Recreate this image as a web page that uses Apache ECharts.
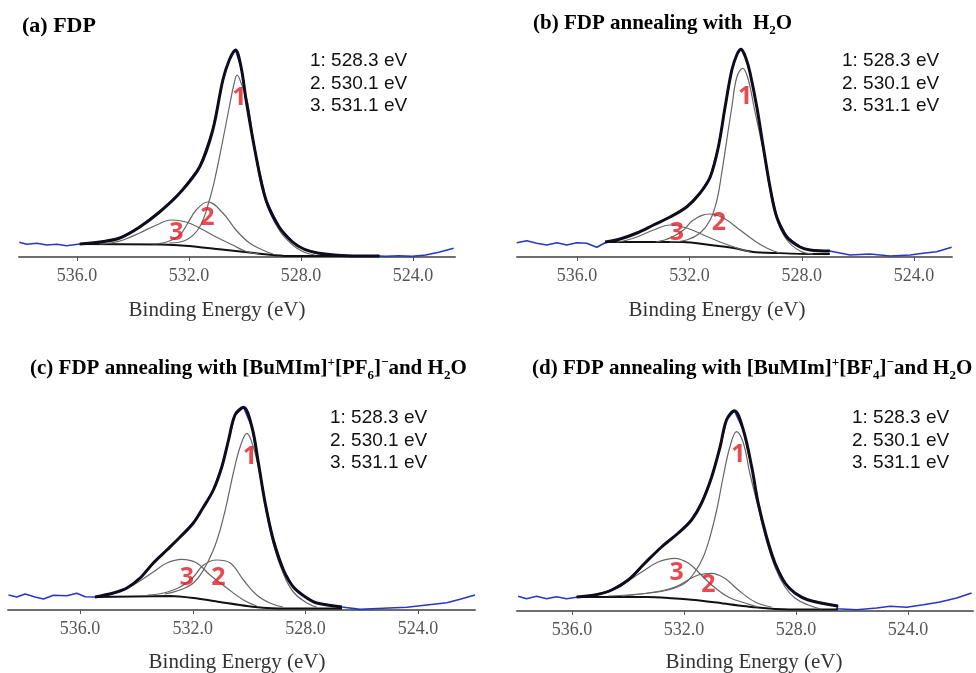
<!DOCTYPE html>
<html lang="en">
<head>
<meta charset="UTF-8">
<title>O 1s XPS spectra of FDP</title>
<script src="https://cdn.jsdelivr.net/npm/echarts@6/dist/echarts.min.js"></script>
<style>
  html, body { margin: 0; background: #fff; }
  #chart { width: 976px; height: 673px; }
</style>
</head>
<body>
<div id="chart"></div>
<script>
// binding energy (eV), intensity (arb. units)

// (a) FDP
var aRawL = [[538.06,14.7],[537.79,12.7],[537.43,13.7],[537.08,12],[536.72,12.7],[536.37,11.3],[536.04,12.5],[535.9,13]];
var aEnv = [[535.9,13],[535.18,15],[534.47,19],[533.76,30],[533.05,45],[532.33,64],[531.62,90],[531.15,127],[530.79,177],[530.56,197],[530.34,207],[530.14,190],[529.96,157],[529.6,100],[529.25,57],[528.78,30],[528.3,15],[527.9,8],[527.4,4],[526.8,2],[526,1],[525.2,1]];
var aRawR = [[525.2,1],[524.98,0.6],[524.5,1.3],[524.03,0.6],[523.55,2],[523.08,4.7],[522.55,8.7]];
var aC1 = [[532.7,14],[532.1,17],[531.62,30],[531.27,57],[531.03,84],[530.79,117],[530.56,150],[530.4,172],[530.28,182],[530.14,174],[529.9,154],[529.6,97],[529.25,55],[528.78,27],[528.3,12],[527.9,5],[527.5,2]];
var aC2 = [[533.3,13],[532.8,15],[532.33,22],[532.04,34],[531.74,47],[531.33,55],[530.79,44],[530.32,27],[529.84,14],[529.37,7],[529.0,3]];
var aC3 = [[535.2,13],[534.8,14],[534.35,17],[533.76,24],[533.16,32],[532.63,37],[532.1,35],[531.62,29],[531.03,20],[530.44,12],[530,6],[529.5,3]];
var aBg = [[535.9,13],[533,12.5],[532,11],[531,8],[530,5],[529.2,2.5],[528.5,1],[525.2,1]];
var aMarks = [[530.2,159,'1'],[531.34,39,'2'],[532.45,24,'3']];

// (b) FDP annealing with H2O
var bRawL = [[538.15,14.3],[537.79,16.3],[537.44,13.7],[537.08,12],[536.72,14.3],[536.37,12],[536.01,14.3],[535.66,13.7],[535.3,9.7],[535,14.3]];
var bEnv = [[535,15],[534.47,18],[533.87,24],[533.28,32],[532.69,40],[532.1,50],[531.62,64],[531.26,80],[530.97,110],[530.73,150],[530.49,187],[530.3,203],[530.16,207.7],[529.98,198],[529.84,184],[529.6,150],[529.37,110],[529.13,70],[528.89,40],[528.53,20],[528.06,10],[527.7,7],[527,6]];
var bRawR = [[527,4],[526.28,2],[525.57,3],[524.85,1],[524.14,2],[523.68,3.7],[523.2,5.3],[522.66,9.7]];
var bC1 = [[532.7,15],[532.1,17],[531.62,24],[531.26,37],[531.02,57],[530.85,84],[530.67,117],[530.49,150],[530.31,180],[530.1,188.7],[529.9,177],[529.7,150],[529.37,106],[529.13,67],[528.89,38],[528.53,17],[528.06,6],[527.6,3]];
var bC2 = [[533.2,15],[532.69,19],[532.21,27],[531.86,37],[531.3,43],[530.79,39],[530.2,27],[529.72,17],[529.25,9],[528.8,4]];
var bC3 = [[534.6,15],[534.35,16],[533.87,20],[533.28,27],[532.69,32],[532.1,29],[531.5,22],[530.91,15],[530.31,9],[529.84,5]];
var bBg = [[535,15],[532.21,15],[531.26,12],[530.43,9],[529.72,5],[528.89,4],[527.7,3],[527,3]];
var bMarks = [[530.02,160,'1'],[530.95,34,'2'],[532.45,24,'3']];

// (c) FDP annealing with [BuMIm]+[PF6]- and H2O
var cRawL = [[538.54,15],[538.25,13],[537.95,16],[537.6,13],[537.3,11],[536.95,14.7],[536.47,14.3],[536.12,16.7],[535.82,13.3],[535.47,13]];
var cEnv = [[535.47,13],[534.82,17],[534.34,22],[533.87,32],[533.4,47],[532.92,60],[532.45,73],[531.98,87],[531.62,103],[531.27,120],[530.97,143],[530.73,170],[530.5,195],[530.2,202.7],[529.9,183],[529.67,147],[529.43,107],[529.14,70],[528.78,40],[528.43,23],[527.95,12],[527.6,7],[526.7,3]];
var cRawR = [[526.7,2],[526.06,0.6],[525.23,1.7],[524.4,2.7],[523.69,5],[522.98,7.3],[522.51,10.7],[521.98,15]];
var cC1 = [[533,16],[532.45,20],[531.98,27],[531.62,40],[531.27,60],[531.03,80],[530.79,107],[530.56,137],[530.32,163],[530.08,176.7],[529.85,163],[529.65,140],[529.43,104],[529.14,66],[528.78,36],[528.43,18],[527.95,7],[527.6,3]];
var cC2 = [[533.6,15],[533.04,17],[532.45,23],[531.98,33],[531.62,45],[531.15,50],[530.67,47],[530.2,30],[529.73,15],[529.26,7],[528.8,3]];
var cC3 = [[535.17,15],[534.58,18],[533.99,27],[533.4,38],[532.92,47],[532.39,50.7],[531.86,47],[531.39,35],[530.79,22],[530.2,10],[529.73,4]];
var cBg = [[535.47,13],[532.8,14],[531.98,12],[531.03,8],[530.08,4],[529.37,2],[528.5,1.5],[526.7,1.5]];
var cMarks = [[529.97,153,'1'],[531.09,32,'2'],[532.21,32,'3']];

// (d) FDP annealing with [BuMIm]+[BF4]- and H2O
var dRawL = [[537.92,14.7],[537.62,12.3],[537.26,14.7],[536.9,12.3],[536.55,14.3],[536.19,12.3],[535.83,13.7]];
var dEnv = [[535.83,14],[535.18,16],[534.58,21],[533.99,31],[533.39,48],[532.8,64],[532.2,78],[531.73,91],[531.37,108],[531.01,134],[530.71,164],[530.48,191],[530.2,200.3],[529.88,181],[529.58,144],[529.35,108],[529.05,74],[528.75,48],[528.39,28],[528.04,18],[527.56,11],[526.5,5]];
var dRawR = [[526.55,2.3],[525.83,1.3],[525.12,3],[524.64,4.7],[524.05,3.7],[523.45,6.3],[522.86,9],[522.26,13],[521.73,18]];
var dC1 = [[534.2,15],[533.25,18],[532.56,21],[531.96,28],[531.61,39],[531.31,54],[531.07,74],[530.83,101],[530.6,134],[530.36,164],[530.12,179.3],[529.88,168],[529.65,138],[529.35,104],[529.05,70],[528.75,44],[528.39,24],[528.04,13],[527.56,6],[527.1,2]];
var dC2 = [[534.7,15],[533.99,16],[533.04,19],[532.32,24],[531.85,31],[531.49,36],[531.01,37.7],[530.54,32.7],[530.06,21],[529.46,9],[528.87,4]];
var dC3 = [[535.3,16],[534.7,19],[534.11,28],[533.51,39],[532.92,49],[532.32,52.7],[531.85,48],[531.49,39],[531.01,26],[530.42,14],[529.82,8],[529.35,4]];
var dBg = [[535.83,14],[533.27,14],[532.44,12.7],[531.61,11],[530.65,7.7],[529.46,3.7],[528.27,1.5],[526.5,1.5]];
var dMarks = [[530.06,156,'1'],[531.13,26,'2'],[532.26,38,'3']];

var tickValues = [536, 532, 528, 524];
var peakNotes = ['1: 528.3 eV', '2. 530.1 eV', '3. 531.1 eV'];
var axisName = 'Binding Energy (eV)';

var titles = [
  '{b|(a) FDP}',
  '{b|(b) FDP annealing with  H}{sub|2}{b|O}',
  '{b|(c) FDP annealing with [BuMIm]}{sup|+}{b|[PF}{sub|6}{b|]}{sup|\u2212}{b|and H}{sub|2}{b|O}',
  '{b|(d) FDP annealing with [BuMIm]}{sup|+}{b|[BF}{sub|4}{b|]}{sup|\u2212}{b|and H}{sub|2}{b|O}'
];

var data = [
  {raw: aRawL.concat(aEnv, aRawR), env: aEnv, c1: aC1, c2: aC2, c3: aC3, bg: aBg, marks: aMarks},
  {raw: bRawL.concat(bEnv, bRawR), env: bEnv, c1: bC1, c2: bC2, c3: bC3, bg: bBg, marks: bMarks},
  {raw: cRawL.concat(cEnv, cRawR), env: cEnv, c1: cC1, c2: cC2, c3: cC3, bg: cBg, marks: cMarks},
  {raw: dRawL.concat(dEnv, dRawR), env: dEnv, c1: dC1, c2: dC2, c3: dC3, bg: dBg, marks: dMarks}
];

// pixel layout of the four panels
var layout = [
  {left: 19,  width: 436, axisY: 257, xmin: 522.5,  xmax: 538.07, title: [22, 26],  tsize: 22, note: [310, 61],  name: [217, 310]},
  {left: 517, width: 435, axisY: 257, xmin: 522.65, xmax: 538.14, title: [533, 24], tsize: 21, note: [842, 61],  name: [717, 310]},
  {left: 8,   width: 467, axisY: 610, xmin: 521.98, xmax: 538.56, title: [30, 369], tsize: 21, note: [330, 418], name: [237, 662]},
  {left: 517, width: 456, axisY: 611, xmin: 521.68, xmax: 537.96, title: [532, 369], tsize: 21, note: [852, 418], name: [754, 662]}
];
var plotH = 220;

var serif = '"Liberation Serif", "Times New Roman", serif';
var sans = '"Liberation Sans", Arial, sans-serif';

var grids = [], xAxes = [], yAxes = [], series = [], graphics = [];

layout.forEach(function (p, i) {
  grids.push({left: p.left, top: p.axisY - plotH, width: p.width, height: plotH});
  xAxes.push({
    gridIndex: i, type: 'value', inverse: true, min: p.xmin, max: p.xmax,
    axisLine: {lineStyle: {color: '#6e6e6e', width: 2}},
    axisTick: {customValues: tickValues, length: 4, lineStyle: {color: '#555', width: 1}},
    axisLabel: {customValues: tickValues, formatter: function (v) { return v.toFixed(1); },
                fontFamily: serif, fontSize: 18, color: '#555', margin: 10},
    splitLine: {show: false}
  });
  yAxes.push({gridIndex: i, type: 'value', min: 0, max: plotH, show: false});

  var d = data[i];
  function line(vals, color, width, z, smooth) {
    series.push({
      type: 'line', xAxisIndex: i, yAxisIndex: i, data: vals, symbol: 'none',
      smooth: smooth, z: z, silent: true,
      lineStyle: {color: color, width: width}
    });
  }
  line(d.raw, '#2638c4', 1.6, 2, false);
  line(d.bg, '#111', 2, 3, 0.2);
  line(d.c3, '#666', 1.2, 4, 0.4);
  line(d.c2, '#666', 1.2, 4, 0.4);
  line(d.c1, '#666', 1.2, 4, 0.4);
  line(d.env, '#0d0d1c', 3, 5, 0.35);
  series.push({
    type: 'scatter', xAxisIndex: i, yAxisIndex: i, data: d.marks, symbolSize: 1, z: 6, silent: true,
    itemStyle: {color: 'rgba(0,0,0,0)'},
    label: {show: true, position: 'inside', formatter: function (o) { return o.value[2]; },
            color: '#e01e26', fontFamily: '"Noto Sans", sans-serif', fontWeight: 'bold', fontSize: 25}
  });

  graphics.push({
    type: 'text', x: p.title[0], y: p.title[1],
    style: {
      text: titles[i], verticalAlign: 'middle', fill: '#000',
      rich: {
        b: {fontFamily: serif, fontWeight: 'bold', fontSize: p.tsize, lineHeight: 26, fill: '#000'},
        sub: {fontFamily: serif, fontWeight: 'bold', fontSize: 13, lineHeight: 14, verticalAlign: 'bottom', fill: '#000'},
        sup: {fontFamily: serif, fontWeight: 'bold', fontSize: 13, lineHeight: 14, verticalAlign: 'top', fill: '#000'}
      }
    }
  });
  peakNotes.forEach(function (t, k) {
    graphics.push({
      type: 'text', x: p.note[0], y: p.note[1] + k * 22.5,
      style: {text: t, font: '19px ' + sans, fill: '#111', verticalAlign: 'middle'}
    });
  });
  graphics.push({
    type: 'text', x: p.name[0], y: p.name[1],
    style: {text: axisName, font: '21px ' + serif, fill: '#333', align: 'center', verticalAlign: 'middle'}
  });
});

var myChart = echarts.init(document.getElementById('chart'));
myChart.setOption({
  animation: false,
  backgroundColor: '#fff',
  grid: grids,
  xAxis: xAxes,
  yAxis: yAxes,
  series: series,
  graphic: graphics
});
</script>
</body>
</html>
